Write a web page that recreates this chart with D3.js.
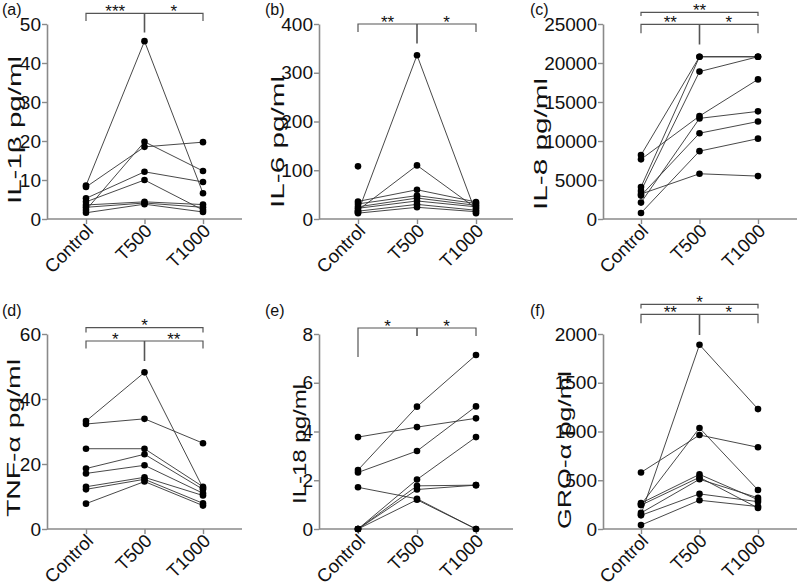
<!DOCTYPE html>
<html>
<head>
<meta charset="utf-8">
<script src="https://cdn.jsdelivr.net/npm/d3@7"></script>
<style>
  html, body { margin: 0; padding: 0; background: #fff; }
  svg { display: block; font-family: "Liberation Sans", Arial, Helvetica, sans-serif; }
</style>
</head>
<body>
<svg id="chart" width="800" height="586"></svg>
<script>
// ---------------- DATA ----------------
const categories = ["Control", "T500", "T1000"];

// (a) IL-1β
const il1bControl = [8.6, 8.2, 2.3, 5.3, 4.4, 3.6, 3.0, 1.6];
const il1bT500    = [45.6, 18.5, 19.8, 12.1, 10.0, 4.4, 4.1, 3.8];
const il1bT1000   = [6.6, 19.7, 12.3, 9.5, 2.3, 3.7, 3.0, 1.8];
const il1bTicks   = [0, 10, 20, 30, 40, 50];
const il1bStars   = ["***", "*", ""];

// (b) IL-6
const il6Control = [14, 18, 36, 31, 25, 22, 16, 12, 108];
const il6T500    = [336, 110, 60, 48, 43, 37, 30, 24, null];
const il6T1000   = [12, 22, 35, 32, 28, 25, 18, 15, null];
const il6Ticks   = [0, 100, 200, 300, 400];
const il6Stars   = ["**", "*", ""];

// (c) IL-8
const il8Control = [8200, 7650, 4100, 3600, 3200, 3000, 2100, 770];
const il8T500    = [20800, 13200, 20800, 18900, 5800, 11000, 12900, 8700];
const il8T1000   = [20800, 17900, 20800, 20800, 5500, 12500, 13800, 10300];
const il8Ticks   = [0, 5000, 10000, 15000, 20000, 25000];
const il8Stars   = ["**", "*", "**"];

// (d) TNF-α
const tnfControl = [33.2, 32.3, 24.7, 18.6, 17.1, 13.0, 12.2, 7.8];
const tnfT500    = [48.2, 33.9, 24.7, 23.0, 19.6, 15.9, 15.3, 14.6];
const tnfT1000   = [12.6, 26.4, 13.0, 12.2, 11.0, 10.3, 7.9, 7.2];
const tnfTicks   = [0, 20, 40, 60];
const tnfStars   = ["*", "**", "*"];

// (e) IL-18
const il18Control = [3.77, 2.42, 2.32, 1.71, 0, 0, 0, 0];
const il18T500    = [4.18, 5.02, 3.2, 1.24, 2.03, 1.77, 1.62, 1.2];
const il18T1000   = [4.54, 7.14, 5.03, 0, 3.77, 1.8, 1.8, 0];
const il18Ticks   = [0, 2, 4, 6, 8];
const il18Stars   = ["*", "*", ""];

// (f) GRO-α
const groControl = [150, 580, 250, 265, 245, 165, 140, 40];
const groT500    = [1890, 964, 1036, 560, 530, 510, 360, 295];
const groT1000   = [1230, 838, 400, 300, 215, 320, 280, 230];
const groTicks   = [0, 500, 1000, 1500, 2000];
const groStars   = ["**", "*", "*"];

const panelLetters = ["(a)", "(b)", "(c)", "(d)", "(e)", "(f)"];
const yTitles = ["IL-1β pg/ml", "IL-6 pg/ml", "IL-8 pg/ml", "TNF-α pg/ml", "IL-18 pg/ml", "GRO-α pg/ml"];

// ---------------- LAYOUT ----------------
const cols = [
  { axisX: 47,  first: 86,  last: 203, end: 242 },
  { axisX: 319, first: 358, last: 476, end: 513 },
  { axisX: 603, first: 641, last: 758, end: 797 }
];
const rows = [
  { bottom: 219, top: 24 },
  { bottom: 529, top: 334 }
];

const panels = [
  { series: [il1bControl, il1bT500, il1bT1000], ticks: il1bTicks, stars: il1bStars, col: 0, row: 0,
    br: { y: 13.3, lDrop: 21, rDrop: 21, mDrop: 32.5 }, top: null, titleX: 21, titleY: 130, titleLen: 148, letter: [2, 15] },
  { series: [il6Control, il6T500, il6T1000], ticks: il6Ticks, stars: il6Stars, col: 1, row: 0,
    br: { y: 24, lDrop: 32, rDrop: 32, mDrop: 43.5 }, top: null, titleX: 284, titleY: 142, titleLen: 132, letter: [265, 15] },
  { series: [il8Control, il8T500, il8T1000], ticks: il8Ticks, stars: il8Stars, col: 2, row: 0,
    br: { y: 24.3, lDrop: 33.3, rDrop: 33.3, mDrop: 44.5 }, top: { y: 12.3, drop: 16 }, titleX: 547, titleY: 144, titleLen: 132, letter: [530, 15] },
  { series: [tnfControl, tnfT500, tnfT1000], ticks: tnfTicks, stars: tnfStars, col: 0, row: 1,
    br: { y: 341, lDrop: 348.5, rDrop: 348.5, mDrop: 361 }, top: { y: 327.7, drop: 332.5 }, titleX: 20, titleY: 438, titleLen: 158, letter: [2, 316] },
  { series: [il18Control, il18T500, il18T1000], ticks: il18Ticks, stars: il18Stars, col: 1, row: 1,
    br: { y: 328, lDrop: 357, rDrop: 336, mDrop: 336 }, top: null, titleX: 306, titleY: 444, titleLen: 120, letter: [265, 316] },
  { series: [groControl, groT500, groT1000], ticks: groTicks, stars: groStars, col: 2, row: 1,
    br: { y: 314.3, lDrop: 323.3, rDrop: 323.3, mDrop: 335 }, top: { y: 304.3, drop: 308.5 }, titleX: 571, titleY: 450, titleLen: 158, letter: [530, 316] }
];

const svg = d3.select("#chart");
const axisColor = "#8a8a8a";

panels.forEach((p, i) => {
  const c = cols[p.col], r = rows[p.row];
  const g = svg.append("g");
  const x = d3.scalePoint().domain(categories).range([c.first, c.last]);
  const y = d3.scaleLinear().domain([0, d3.max(p.ticks)]).range([r.bottom, r.top]);

  // y axis
  const ya = g.append("g").attr("transform", `translate(${c.axisX},0)`)
    .call(d3.axisLeft(y).tickValues(p.ticks).tickSize(5).tickSizeOuter(0).tickPadding(1).tickFormat(d3.format("d")));
  ya.select(".domain").attr("stroke", axisColor).attr("stroke-width", 1.6);
  ya.selectAll(".tick line").attr("stroke", axisColor).attr("stroke-width", 1.4);
  ya.selectAll(".tick text").attr("fill", "#111").style("font-size", "19px")
    .style("font-family", "'Liberation Sans', Arial, sans-serif");

  // x axis
  g.append("line").attr("x1", c.axisX).attr("x2", c.end).attr("y1", r.bottom).attr("y2", r.bottom)
    .attr("stroke", axisColor).attr("stroke-width", 1.6);
  const xa = g.append("g").attr("transform", `translate(0,${r.bottom})`)
    .call(d3.axisBottom(x).tickSize(5).tickSizeOuter(0));
  xa.select(".domain").remove();
  xa.selectAll(".tick line").attr("stroke", axisColor).attr("stroke-width", 1.4);
  xa.selectAll(".tick text").attr("fill", "#111").style("font-size", "18.5px")
    .style("font-family", "'Liberation Sans', Arial, sans-serif")
    .attr("text-anchor", "end").attr("dy", null).attr("y", 0)
    .attr("transform", "translate(8,13) rotate(-45)");

  // y title
  g.append("text").attr("transform", `translate(${p.titleX},${p.titleY}) rotate(-90)`)
    .attr("text-anchor", "middle").style("font-size", "19px").attr("fill", "#111")
    .attr("textLength", p.titleLen).attr("lengthAdjust", "spacingAndGlyphs").text(yTitles[i]);

  // panel letter
  g.append("text").attr("x", p.letter[0]).attr("y", p.letter[1]).style("font-size", "16px")
    .attr("fill", "#111").text(panelLetters[i]);

  // subject lines
  const n = p.series[0].length;
  const subjects = d3.range(n).map(k => categories.map((cat, j) => ({ cat, v: p.series[j][k] })));
  const line = d3.line().defined(d => d.v != null).x(d => x(d.cat)).y(d => y(d.v));
  g.selectAll("path.subj").data(subjects).join("path").attr("class", "subj")
    .attr("d", line).attr("fill", "none").attr("stroke", "#333").attr("stroke-width", 0.9);

  // points
  const pts = [];
  p.series.forEach((arr, j) => arr.forEach(v => { if (v != null) pts.push({ cat: categories[j], v }); }));
  g.selectAll("circle").data(pts).join("circle")
    .attr("cx", d => x(d.cat)).attr("cy", d => y(d.v)).attr("r", 3.3).attr("fill", "#000");

  // significance brackets
  const bc = "#555";
  const x0 = x("Control"), x1 = x("T500"), x2 = x("T1000");
  const b = p.br;
  const bg = g.append("g").attr("stroke", bc).attr("stroke-width", 1.2).attr("fill", "none");
  bg.append("path").attr("d", `M${x0},${b.lDrop}V${b.y}H${x2}V${b.rDrop}`);
  bg.append("line").attr("x1", x1).attr("x2", x1).attr("y1", b.y).attr("y2", b.mDrop).attr("stroke-width", 1.6);
  const starStyle = s => s.style("font-size", "17px").attr("fill", "#111").attr("text-anchor", "middle");
  g.append("text").attr("x", (x0 + x1) / 2).attr("y", b.y + 3.5).text(p.stars[0]).call(starStyle);
  g.append("text").attr("x", (x1 + x2) / 2).attr("y", b.y + 3.5).text(p.stars[1]).call(starStyle);
  if (p.top) {
    bg.append("path").attr("d", `M${x0},${p.top.drop}V${p.top.y}H${x2}V${p.top.drop}`);
    g.append("text").attr("x", x1).attr("y", p.top.y + 3.5).text(p.stars[2]).call(starStyle);
  }
});
</script>
</body>
</html>
